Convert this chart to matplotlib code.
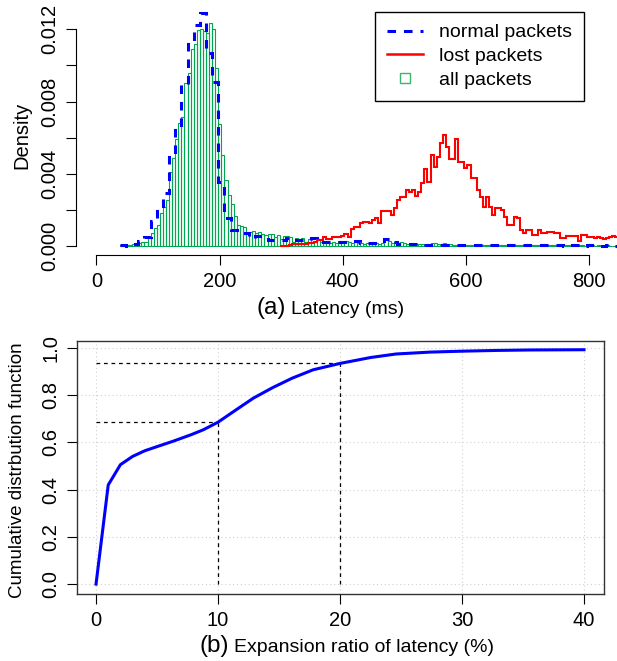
import numpy as np
import matplotlib.pyplot as plt
from matplotlib.lines import Line2D

plt.rcParams['font.family'] = ['Liberation Sans', 'DejaVu Sans']

# (a) latency histograms, density per bin
bin_start = 38      # first bin edge, ms
fine_w = 5          # bin width for all / lost packets, ms
coarse_w = 10       # bin width for normal packets, ms
lost_start = 298    # first bin edge of the lost-packet curve, ms

all_pk = [
    0.00004, 0.00004, 0.00006, 0.00008, 0.0001, 0.00012, 0.00015, 0.00022, 0.00024, 0.00045,
    0.0007, 0.00098, 0.00114, 0.00183, 0.00215, 0.00255, 0.00412, 0.00485, 0.00591, 0.00679,
    0.00716, 0.00901, 0.00956, 0.01089, 0.01117, 0.01196, 0.012, 0.0119, 0.0118, 0.01237,
    0.012, 0.00984, 0.00676, 0.00504, 0.00365, 0.00282, 0.00233, 0.00165, 0.00116, 0.00111,
    0.00107, 0.00074, 0.00078, 0.00083, 0.00074, 0.00078, 0.00066, 0.0006, 0.00066, 0.00066,
    0.00048, 0.0006, 0.00037, 0.00055, 0.00055, 0.00048, 0.00024, 0.00042, 0.00037, 0.00046,
    0.00024, 0.00037, 0.00024, 0.00028, 0.00037, 0.00024, 0.00018, 0.00024, 0.00015,
    0.00022, 0.00018, 0.00028, 0.0003, 0.00026, 0.0002, 0.00015, 0.00022, 0.00018, 0.00015,
    0.00013, 0.00015, 0.00018, 0.00013, 0.00015, 0.00013, 0.00018, 0.00035, 0.0003, 0.00015,
    0.0002, 0.00018, 0.00022, 0.00015, 0.00012, 0.00013, 0.0001, 0.00012, 0.0001, 0.0001,
    0.00008, 0.00012, 0.00015, 0.00015, 0.00012, 0.0001, 0.00015, 0.00012, 0.0001, 0.00008,
    0.00008, 0.00006, 0.00008, 0.00006, 0.00005, 0.00006, 0.00005, 0.00006, 0.00004, 0.00005,
    0.00005, 0.00004, 0.00006, 0.00005, 0.00004, 0.00005, 0.00004, 0.00005, 0.00006, 0.00004,
    0.00004, 0.00005, 0.00004, 0.00003, 0.00004, 0.00005, 0.00004, 0.00003, 0.00004, 0.00004,
    0.00003, 0.00004, 0.00003, 0.00004, 0.00003, 0.00003, 0.00004, 0.00003, 0.00003, 0.00002,
    0.00003, 0.00003, 0.00002, 0.00003, 0.00003, 0.00002, 0.00003, 0.00002, 0.00002, 0.00003,
    0.00002, 0.00002, 0.00002,
]

normal_pk = [
    0.00005, 0.00001, 0.00011, 0.0003, 0.00048, 0.0014, 0.00203, 0.00294, 0.00504, 0.00661,
    0.00897, 0.01131, 0.01224, 0.01292, 0.0107, 0.0091, 0.00356, 0.00153, 0.00089, 0.00076,
    0.0007, 0.00046, 0.00054, 0.00054, 0.00035, 0.00035, 0.00035, 0.00046, 0.00033, 0.00033,
    0.00033, 0.00044, 0.0002, 0.0002, 0.00024, 0.00022, 0.00024, 0.0003, 0.0003, 0.00015,
    0.00015, 0.00015, 0.00015, 0.00037, 0.00022, 0.0001, 0.0001, 0.0001, 0.0001, 0.00008,
    0.00006, 0.00005, 0.00006, 0.00005, 0.00004, 0.00005, 0.00004, 0.00004, 0.00005, 0.00004,
    0.00004, 0.00003, 0.00004, 0.00004, 0.00003, 0.00004, 0.00003, 0.00003, 0.00004, 0.00003,
    0.00003, 0.00003, 0.00002, 0.00003, 0.00003, 0.00002, 0.00003, 0.00002, 0.00002, 0.00003,
    0.00002,
]

lost_pk = [
    0.00002, 0.00002, 0.00002, 0.00004, 0.0001, 0.0001, 0.0001, 0.00012, 0.0001, 0.00018,
    0.00018, 0.00022, 0.00033, 0.00033, 0.00048, 0.00039, 0.00039, 0.00048, 0.00048, 0.00048,
    0.00055, 0.00066, 0.00048, 0.00092, 0.00104, 0.00104, 0.00129, 0.00135, 0.00135, 0.00129,
    0.00144, 0.00153, 0.00129, 0.00195, 0.00195, 0.00192, 0.00172, 0.00209, 0.00255, 0.00273,
    0.00273, 0.0031, 0.003, 0.0031, 0.00277, 0.003, 0.00347, 0.00425, 0.00356, 0.00504,
    0.00439, 0.00494, 0.00569, 0.00615, 0.0055, 0.0048, 0.0048, 0.0059, 0.00467, 0.00467,
    0.0043, 0.0045, 0.00375, 0.00375, 0.0031, 0.00273, 0.00218, 0.0027, 0.00214, 0.00172,
    0.00209, 0.00209, 0.002, 0.00162, 0.00116, 0.00116, 0.00162, 0.00153, 0.00089, 0.0007,
    0.00089, 0.00089, 0.00061, 0.00061, 0.00089, 0.0007, 0.0007, 0.0008, 0.0008, 0.0007,
    0.0007, 0.00046, 0.00046, 0.00055, 0.00055, 0.00055, 0.00055, 0.00028, 0.00061, 0.00061,
    0.0005, 0.0005, 0.00045, 0.0005, 0.00045, 0.0004, 0.00045, 0.0005, 0.00055, 0.0005,
]

# (b) CDF of latency expansion ratio
ratio = [0, 1, 2, 3, 4, 5.2, 6.3, 7.8, 8.8, 10, 11.5, 12.9, 14.5, 16.1, 17.8, 20,
         22.5, 24.6, 27.4, 30.1, 32.8, 35.6, 40]
cdf = [0.0, 0.42, 0.506, 0.541, 0.565, 0.586, 0.605, 0.633, 0.654, 0.686, 0.739, 0.788,
       0.833, 0.873, 0.908, 0.935, 0.960, 0.975, 0.983, 0.987, 0.990, 0.992, 0.993]
mark_x = [10, 20]
mark_y = [0.686, 0.935]

green = '#00a651'
blue_dash = (0, (2.8, 2.6))
W, H = 617, 661
fig = plt.figure(figsize=(W / 100, H / 100), dpi=100)

# ---------------- panel (a)
ax1 = fig.add_axes([76 / W, 1 - 255 / H, (W - 76) / W, 253 / H])
all_edges = bin_start + fine_w * np.arange(len(all_pk) + 1)
norm_edges = bin_start + coarse_w * np.arange(len(normal_pk) + 1)
lost_edges = lost_start + fine_w * np.arange(len(lost_pk) + 1)

ax1.bar(all_edges[:-1], all_pk, width=fine_w, align='edge', fill=False,
        edgecolor=green, linewidth=0.8)
ax1.stairs(normal_pk, norm_edges, baseline=None, color='blue',
           linestyle=blue_dash, linewidth=2.2)
ax1.stairs(lost_pk, lost_edges, baseline=None, color='red', linewidth=1.5)

ax1.set_xlim(-33.3, 846)
ax1.set_ylim(-0.0005, 0.01351)
for s in ['top', 'right']:
    ax1.spines[s].set_visible(False)
ax1.spines['left'].set_bounds(0, 0.012)
ax1.spines['bottom'].set_bounds(0, 800)
ax1.set_xticks([0, 200, 400, 600, 800])
yt = [0, 0.002, 0.004, 0.006, 0.008, 0.010, 0.012]
ax1.set_yticks(yt)
ax1.set_yticklabels(['0.000', '', '0.004', '', '0.008', '', '0.012'],
                    rotation=90, va='center')
ax1.tick_params(direction='out', length=7, width=0.8, labelsize=14.5, pad=5)

handles = [
    Line2D([], [], color='blue', linestyle=blue_dash, linewidth=2.2),
    Line2D([], [], color='red', linewidth=1.8),
    Line2D([], [], linestyle='none', marker='s', markersize=7,
           markerfacecolor='none', markeredgecolor='#3cb371'),
]
leg = ax1.legend(handles, ['normal packets', 'lost packets', 'all packets'],
                 loc='upper right', bbox_to_anchor=(0.939, 0.960), borderaxespad=0,
                 fontsize=14, fancybox=False, edgecolor='black', framealpha=1,
                 handlelength=1.85, handletextpad=0.85, labelspacing=0.32,
                 borderpad=0.6)
leg.get_frame().set_linewidth(1.0)

fig.text(286 / W, 1 - 314 / H, '(a)', fontsize=17.5, ha='right', va='baseline')
fig.text(291 / W, 1 - 314 / H, 'Latency (ms)', fontsize=14, ha='left', va='baseline')
fig.text(22 / W, 1 - 135 / H, 'Density', fontsize=14.5, rotation=90,
         ha='center', va='center')

# ---------------- panel (b)
ax2 = fig.add_axes([77 / W, 1 - 594 / H, 527 / W, 253 / H])
ax2.set_axisbelow(True)
ax2.grid(True, color='#d0d0d0', linestyle=(0, (1, 2.5)), linewidth=0.8)
for mx, my in zip(mark_x, mark_y):
    ax2.plot([0, mx], [my, my], color='black', linestyle=(0, (3, 3)), linewidth=0.9)
    ax2.plot([mx, mx], [0, my], color='black', linestyle=(0, (3, 3)), linewidth=0.9)
ax2.plot(ratio, cdf, color='blue', linewidth=2.2)

ax2.set_xlim(-1.56, 41.64)
ax2.set_ylim(-0.042, 1.03)
ax2.set_xticks([0, 10, 20, 30, 40])
ax2.set_yticks([0, 0.2, 0.4, 0.6, 0.8, 1.0])
ax2.set_yticklabels(['0.0', '0.2', '0.4', '0.6', '0.8', '1.0'], rotation=90, va='center')
ax2.tick_params(direction='out', length=7, width=0.8, labelsize=14.5, pad=5)
for s in ax2.spines.values():
    s.set_color('#333333')
    s.set_linewidth(1.0)

fig.text(229 / W, 1 - 652 / H, '(b)', fontsize=17.5, ha='right', va='baseline')
fig.text(234 / W, 1 - 652 / H, 'Expansion ratio of latency (%)', fontsize=14,
         ha='left', va='baseline')
fig.text(18 / W, 1 - 470 / H, 'Cumulative distrbution function', fontsize=13.5,
         rotation=90, ha='center', va='center')

fig.savefig('out.png', dpi=100)
